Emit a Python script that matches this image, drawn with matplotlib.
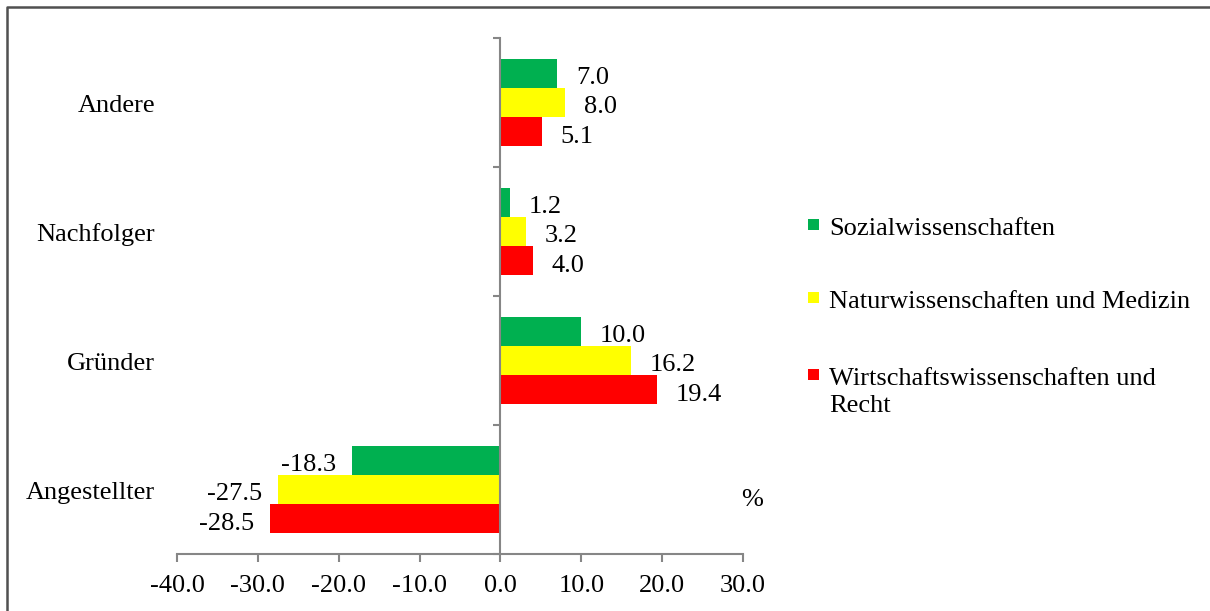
import numpy as np
import matplotlib.pyplot as plt
from matplotlib.patches import Rectangle
from matplotlib.lines import Line2D
from matplotlib.transforms import blended_transform_factory, offset_copy

# Daten
kategorien = ['Angestellter', 'Gründer', 'Nachfolger', 'Andere']
reihen = ['Sozialwissenschaften', 'Naturwissenschaften und Medizin',
          'Wirtschaftswissenschaften und\nRecht']
farben = ['#00B050', '#FFFF00', '#FF0000']
sozial = [-18.3, 10.0, 1.2, 7.0]
natur = [-27.5, 16.2, 3.2, 8.0]
wirtschaft = [-28.5, 19.4, 4.0, 5.1]
werte = [sozial, natur, wirtschaft]
x_ticks = [-40, -30, -20, -10, 0, 10, 20, 30]

plt.rcParams['font.family'] = ['Liberation Serif', 'DejaVu Serif']
FS = 19
GRAU = '#868686'

fig = plt.figure(figsize=(12.1, 6.11), dpi=100)
ax = fig.add_axes([177 / 1210, 1 - 554 / 611, (743 - 177) / 1210, (554 - 38) / 611])

y = np.arange(len(kategorien))
h = 0.226
for i, (vals, farbe) in enumerate(zip(werte, farben)):
    pos = y + h * (1 - i)
    ax.barh(pos, vals, height=h, color=farbe, edgecolor='none')
    for p, v in zip(pos, vals):
        off = 13.5 if v >= 0 else -11.5
        ax.annotate(f'{v:.1f}', (v, p), xytext=(off, -3.5), textcoords='offset points',
                    ha='left' if v >= 0 else 'right', va='center', fontsize=FS)

ax.set_xlim(-40, 30)
ax.set_ylim(-0.5, 3.5)
ax.set_xticks(x_ticks)
ax.set_xticklabels([f'{t:.1f}' for t in x_ticks], fontsize=FS)
ax.tick_params(axis='x', direction='out', length=6, width=1.5, color=GRAU, pad=9)

# y-Achse bei 0 mit Strichen an den Kategoriegrenzen
ax.spines['left'].set_position(('data', 0))
ax.set_yticks(np.arange(-0.5, 4, 1))
ax.set_yticklabels([])
ax.tick_params(axis='y', direction='out', length=5, width=1.5, color=GRAU)
for s in ['top', 'right']:
    ax.spines[s].set_visible(False)
for s in ['left', 'bottom']:
    ax.spines[s].set_color(GRAU)
    ax.spines[s].set_linewidth(1.5)

trans = offset_copy(blended_transform_factory(ax.transAxes, ax.transData),
                    fig=fig, x=0, y=-3, units='dots')
for yy, k in zip(y, kategorien):
    ax.text(-0.039, yy, k, transform=trans, ha='right', va='center', fontsize=FS)

# Legende von Hand
basis = [235, 308, 385]
zeile = 27
for b, name, farbe in zip(basis, reihen, farben):
    fig.add_artist(Rectangle((808 / 1210, 1 - (b - 5) / 611), 11 / 1210, 11 / 611,
                             transform=fig.transFigure, color=farbe, lw=0))
    for j, teil in enumerate(name.split('\n')):
        fig.text(829 / 1210, 1 - (b + j * zeile) / 611, teil, fontsize=FS,
                 va='baseline', ha='left')

fig.text(752 / 1210, 1 - 500 / 611, '%', fontsize=FS, ha='center', va='center')

# Rahmen
fig.add_artist(Line2D([7 / 1210, 7 / 1210, 1], [0, 1 - 7 / 611, 1 - 7 / 611],
                      transform=fig.transFigure, color='#505050', lw=1.8))

fig.savefig('out.png', dpi=100)
